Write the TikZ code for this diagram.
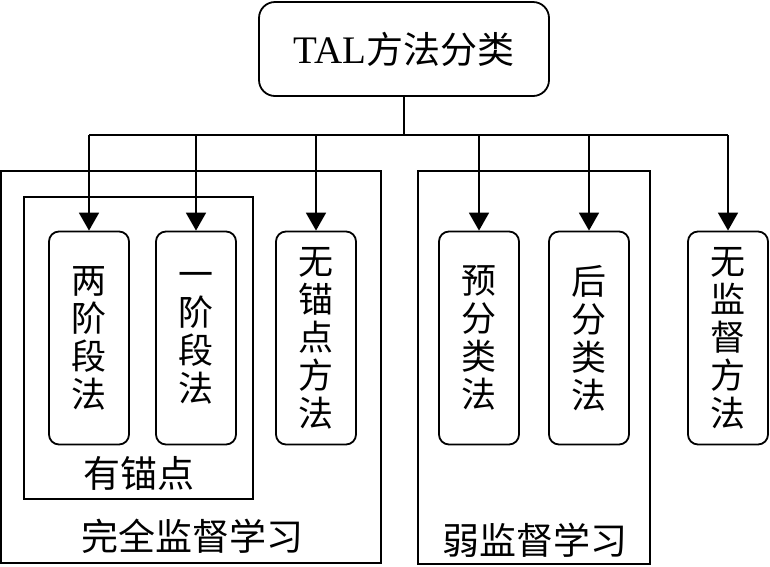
\documentclass[tikz,border=0pt]{standalone}
\usepackage{fontspec}
\setmainfont{Liberation Serif}
\newfontfamily\cjk{Noto Sans CJK SC}
\usetikzlibrary{arrows.meta}
\begin{document}
\begin{tikzpicture}[x=1pt,y=-1pt, line width=1.8pt,
  method/.style={draw, rounded corners=10pt, minimum width=80pt, minimum height=213pt, inner sep=0pt, align=center, font=\cjk\fontsize{35}{38}\selectfont},
  grouplabel/.style={font=\cjk\fontsize{37}{40}\selectfont, inner sep=0pt},
  arr/.style={-{Triangle[length=18pt,width=20pt]}}]
\useasboundingbox (0,0) rectangle (770,566);
\node[draw, rounded corners=16pt, minimum width=290pt, minimum height=94pt, inner sep=0pt, font=\fontsize{39}{42}\selectfont] (top) at (404,49) {TAL{\cjk\fontsize{37}{42}\selectfont 方法分类}};
\node[method] (b1) at (89,338) {两\\阶\\段\\法};
\node[method] (b2) at (196,338) {一\\阶\\段\\法};
\node[method] (b3) at (316,338) {无\\锚\\点\\方\\法};
\node[method] (b4) at (479,338) {预\\分\\类\\法};
\node[method] (b5) at (589,338) {后\\分\\类\\法};
\node[method] (b6) at (728,338) {无\\监\\督\\方\\法};
\draw (1,171) rectangle (381,563);
\draw (24,197) rectangle (253,499);
\draw (418,171) rectangle (650,564);
\node[grouplabel] (anchorlbl) at (139,473) {有锚点};
\node[grouplabel] (fulllbl) at (192,536) {完全监督学习};
\node[grouplabel] (weaklbl) at (535,540) {弱监督学习};
\coordinate (bus) at (404,135);
\draw (top.south) -- (bus);
\draw (b1.north |- bus) -- (b6.north |- bus);
\foreach \b in {b1,b2,b3,b4,b5,b6} \draw[arr] (\b.north |- bus) -- (\b.north);
\end{tikzpicture}
\end{document}
